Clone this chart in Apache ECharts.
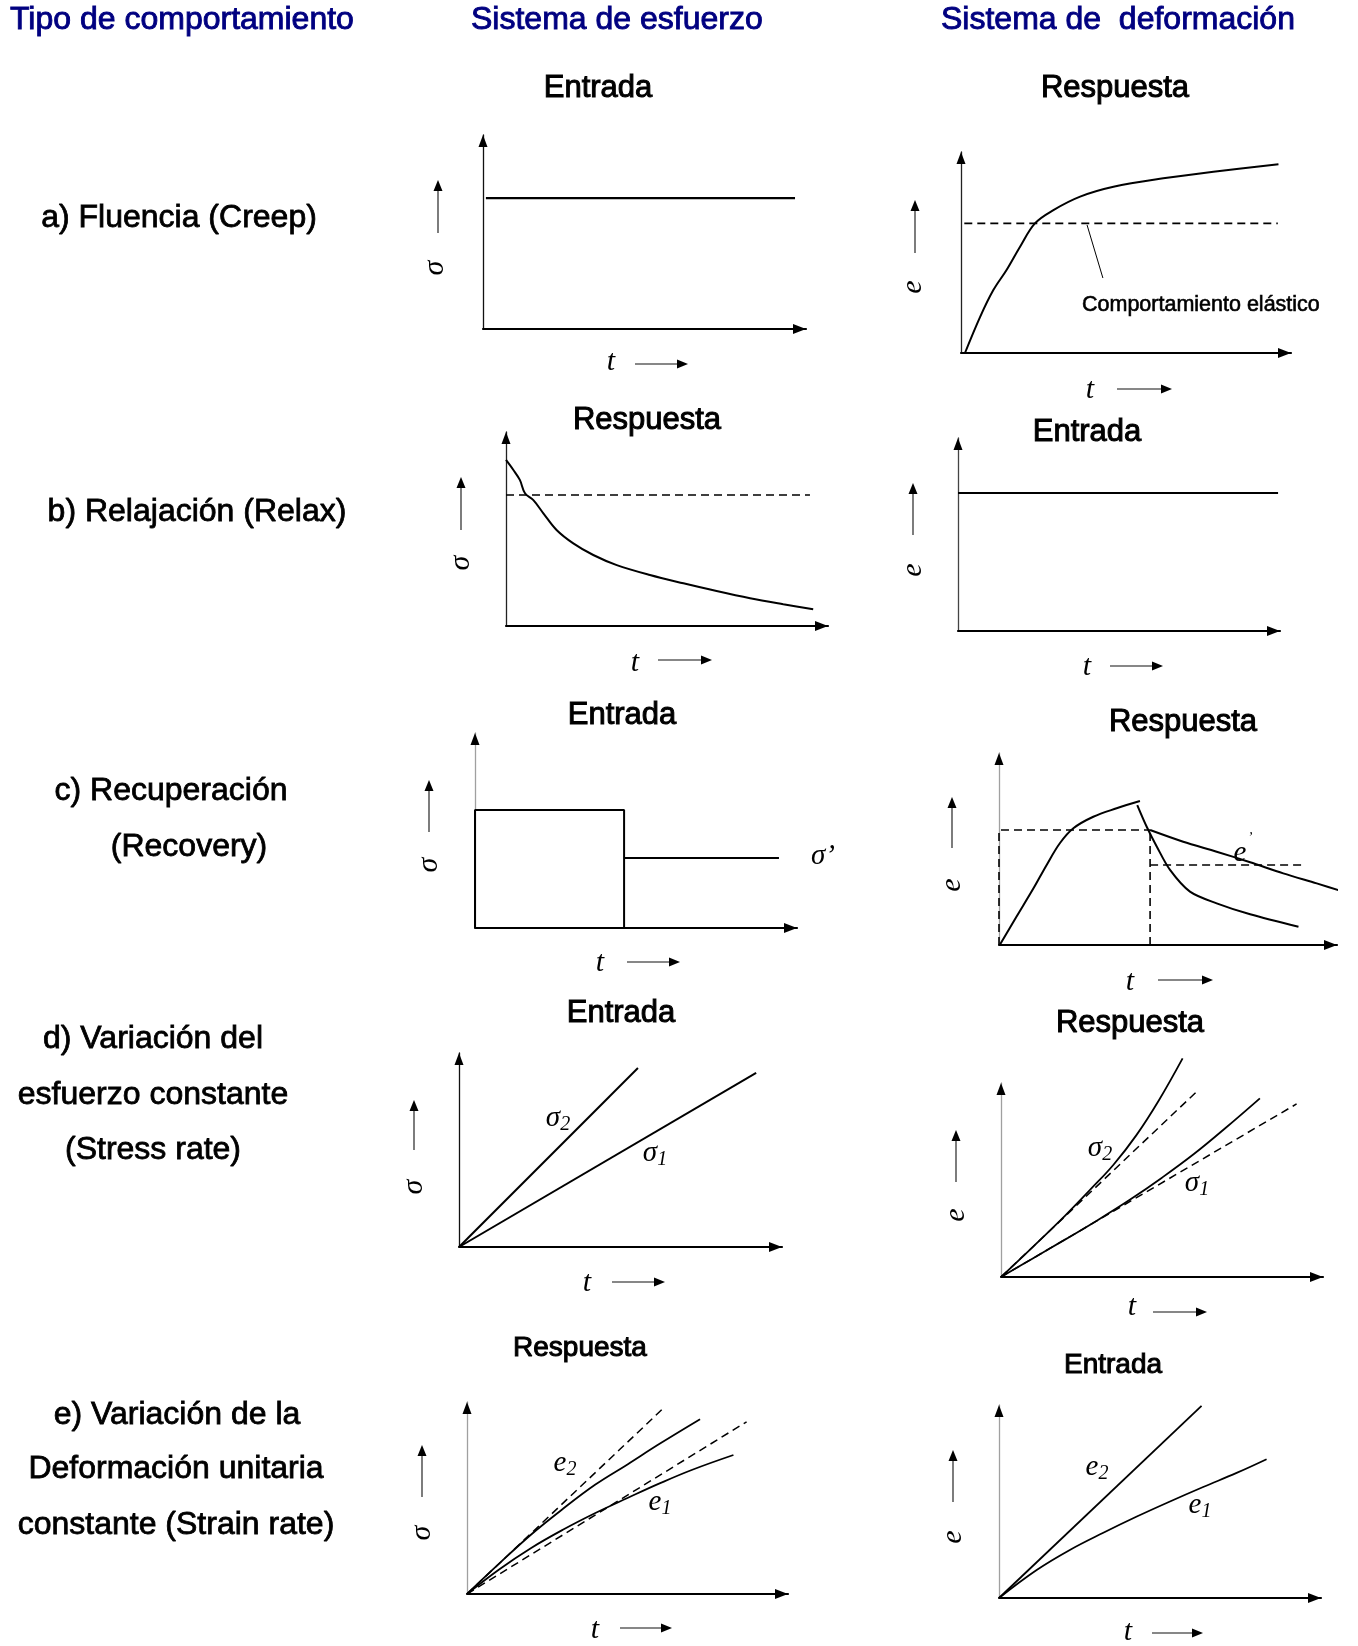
<!DOCTYPE html>
<html><head><meta charset="utf-8">
<script src="https://cdn.jsdelivr.net/npm/echarts@6/dist/echarts.min.js"></script>
<style>html,body{margin:0;padding:0;background:#fff}#c{width:1358px;height:1646px}</style>
</head><body><div id="c"></div>
<script>
// ---------- DATA (normalized: t 0..100 along x axis, value 0..100 along y axis) ----------
const columnHeaders = ['Tipo de comportamiento', 'Sistema de esfuerzo', 'Sistema de  deformación'];
const rowLabels = [
  ['a) Fluencia (Creep)'],
  ['b) Relajación (Relax)'],
  ['c) Recuperación', '(Recovery)'],
  ['d) Variación del', 'esfuerzo constante', '(Stress rate)'],
  ['e) Variación de la', 'Deformación unitaria', 'constante (Strain rate)']
];
const panelTitles = ['Entrada', 'Respuesta', 'Respuesta', 'Entrada', 'Entrada', 'Respuesta', 'Entrada', 'Respuesta', 'Respuesta', 'Entrada'];
const elasticLabel = 'Comportamiento elástico';

// a) creep
const creepInput = [[0.9, 67.5], [96.6, 67.5]];
const creepResponse = [[1.2, 0], [5.8, 18], [9.8, 31.3], [13.8, 41.3], [17.9, 52.9], [22.4, 64.5], [28, 71.1], [36.1, 77.8], [46.2, 82.7], [61.3, 86.9], [76.5, 90.2], [96.2, 93.9]];
const creepElastic = [[1, 64.5], [96, 64.5]];
const creepLeader = [[38.2, 63.7], [43, 37.3]];
// b) relaxation
const relaxResponse = [[0, 85.6], [2.3, 80.4], [4.3, 75.3], [5.9, 68.4], [8.5, 64.9], [11.6, 58.1], [15.7, 49.5], [20.9, 42.6], [27.1, 36.6], [34.4, 31.4], [44.7, 26.3], [55.1, 22], [65.4, 18], [75.8, 14.3], [86.1, 11.2], [95.4, 8.6]];
const relaxElastic = [[0, 67.5], [94.4, 67.5]];
const relaxInput = [[0, 71.5], [99.4, 71.5]];
// c) recovery
const recoveryInput = [[0, 0], [0, 60.5], [46.3, 60.5], [46.3, 0]];
const recoveryInputTail = [[46.3, 35.9], [94.4, 35.9]];
const recoveryRise = [[0.3, 0.3], [5.2, 14.8], [10.2, 29.5], [14.1, 41.7], [18, 53], [22, 60.8], [27.9, 66.8], [34.8, 71.2], [41.7, 75]];
const recoveryDrop = [[40.9, 72.9], [43.7, 61.6], [46.7, 51.2], [50.6, 39.1], [56.5, 27.8], [64.4, 21.7], [74.3, 16], [88.6, 9.5]];
const recoverySlow = [[44.7, 59.9], [54.5, 53.8], [64.4, 48.6], [74.3, 43.1], [84.1, 37.3], [94, 32.1], [101.9, 27.8]];
const recoveryGuideA = [[0, 0], [0, 59.9], [44.7, 59.9]];
const recoveryGuideB = [[44.7, 0], [44.7, 59.9]];
const recoveryGuideC = [[44.7, 41.7], [90.5, 41.7]];
// d) stress rate
const rateSigma2 = [[0, 0], [55.4, 92.3]];
const rateSigma1 = [[0, 0], [92, 89.7]];
const rateResp2 = [[0, 0], [10, 15.7], [20, 31.8], [28, 45.5], [35, 58], [42, 73], [49, 91], [56.4, 112.7]];
const rateResp2Lin = [[0, 0], [61.3, 96.4]];
const rateResp1 = [[0, 0], [10, 9.7], [20, 19.4], [30, 29.3], [40, 39.8], [50, 51.2], [60, 63.5], [70, 77.2], [80.4, 92.1]];
const rateResp1Lin = [[0, 0], [91.8, 89.2]];
// e) strain rate
const strainResp2 = [[0, 0], [10, 15.8], [20, 31], [30, 44.5], [40, 57], [50, 67.5], [60, 78.2], [72.6, 91]];
const strainResp2Lin = [[0, 0], [61.7, 97.6]];
const strainResp1 = [[0, 0], [10, 12.8], [20, 24], [30, 33.6], [40, 42.2], [50, 50], [60, 57.6], [70, 64.6], [83, 72.4]];
const strainResp1Lin = [[0, 0], [87.1, 89.7]];
const strainIn2 = [[0, 0], [62.9, 99.5]];
const strainIn1 = [[0, 0], [11.7, 14.5], [22, 24.9], [32.4, 33.8], [42.8, 42.2], [53.1, 50], [63.4, 57.5], [73.8, 64.8], [83.1, 71.9]];

// ---------- LAYOUT ----------
const SANS = '"Liberation Sans", Arial, Helvetica, sans-serif';
const SERIF = '"Liberation Serif", "Times New Roman", serif';
const panels = [
  {x0: 483, y0: 329, w: 323, h: 194, yc: '#111', yl: 'σ', ylab: [435, 268], yar: [438, 233, 180], tl: [611, 362], tar: [635, 688, 364], title: [598, 88], ts: 31},
  {x0: 961, y0: 353, w: 330, h: 201, yc: '#222', yl: 'e', ylab: [913, 287], yar: [915, 253, 200], tl: [1090, 390], tar: [1117, 1172, 389], title: [1115, 88], ts: 31},
  {x0: 506, y0: 626, w: 322, h: 194, yc: '#222', yl: 'σ', ylab: [461, 563], yar: [461, 530, 477], tl: [635, 663], tar: [658, 712, 660], title: [647, 420], ts: 31},
  {x0: 958, y0: 631, w: 322, h: 193, yc: '#444', yl: 'e', ylab: [913, 570], yar: [913, 535, 483], tl: [1087, 667], tar: [1110, 1163, 666], title: [1087, 432], ts: 31},
  {x0: 475, y0: 928, w: 322, h: 195, yc: '#a0a0a0', yl: 'σ', ylab: [429, 865], yar: [429, 832, 780], tl: [600, 963], tar: [627, 680, 962], title: [622, 715], ts: 31},
  {x0: 999, y0: 945, w: 338, h: 192, yc: '#a0a0a0', yl: 'e', ylab: [952, 885], yar: [952, 848, 797], tl: [1130, 982], tar: [1158, 1213, 980], title: [1183, 722], ts: 31},
  {x0: 459, y0: 1247, w: 323, h: 194, yc: '#111', yl: 'σ', ylab: [414, 1187], yar: [414, 1150, 1100], tl: [587, 1283], tar: [612, 665, 1282], title: [621, 1013], ts: 31},
  {x0: 1001, y0: 1277, w: 322, h: 194, yc: '#a0a0a0', yl: 'e', ylab: [956, 1215], yar: [956, 1182, 1130], tl: [1132, 1307], tar: [1153, 1207, 1312], title: [1130, 1023], ts: 31},
  {x0: 467, y0: 1594, w: 321, h: 192, yc: '#a0a0a0', yl: 'σ', ylab: [422, 1533], yar: [422, 1497, 1445], tl: [595, 1630], tar: [620, 672, 1628], title: [580, 1348], ts: 28},
  {x0: 999, y0: 1598, w: 322, h: 193, yc: '#a0a0a0', yl: 'e', ylab: [953, 1537], yar: [953, 1502, 1450], tl: [1128, 1632], tar: [1152, 1203, 1633], title: [1113, 1365], ts: 28}
];

const grids = [], xAxes = [], yAxes = [];
const graphics = [];
panels.forEach((p, i) => {
  grids.push({left: p.x0, top: p.y0 - p.h, width: p.w, height: p.h, containLabel: false});
  xAxes.push({type: 'value', gridIndex: i, min: 0, max: 100,
    axisLine: {show: true, onZero: false, symbol: ['none', 'triangle'], symbolSize: [10, 13], symbolOffset: [0, -6.5], lineStyle: {color: '#000', width: 2.2}},
    axisTick: {show: false}, axisLabel: {show: false}, splitLine: {show: false}});
  yAxes.push({type: 'value', gridIndex: i, min: 0, max: 100,
    axisLine: {show: true, onZero: false, symbol: 'none', lineStyle: {color: p.yc, width: 1.3}},
    axisTick: {show: false}, axisLabel: {show: false}, splitLine: {show: false}});
  // black arrow head on top of the y axis
  const tx = p.x0, ty = p.y0 - p.h;
  graphics.push({type: 'polygon', silent: true, z: 60, shape: {points: [[tx, ty], [tx - 4.5, ty + 12], [tx + 4.5, ty + 12]]}, style: {fill: '#000'}});
});

const series = [];
function addLine(panel, data, opts) {
  opts = opts || {};
  series.push({type: 'line', xAxisIndex: panel, yAxisIndex: panel, data: data, symbol: 'none', clip: false,
    smooth: opts.smooth || false, animation: false, silent: true,
    lineStyle: {color: '#000', width: opts.width || 2, type: opts.dashed ? [8, 5] : 'solid'}});
}
addLine(0, creepInput, {width: 2.2});
addLine(1, creepResponse, {smooth: 0.35, width: 2});
addLine(1, creepElastic, {dashed: true, width: 1.6});
addLine(1, creepLeader, {width: 1});
addLine(2, relaxResponse, {smooth: 0.35, width: 2});
addLine(2, relaxElastic, {dashed: true, width: 1.6});
addLine(3, relaxInput, {width: 2.2});
addLine(4, recoveryInput, {width: 2});
addLine(4, recoveryInputTail, {width: 2});
addLine(5, recoveryRise, {smooth: 0.35});
addLine(5, recoveryDrop, {smooth: 0.3});
addLine(5, recoverySlow, {smooth: 0.3});
addLine(5, recoveryGuideA, {dashed: true, width: 1.6});
addLine(5, recoveryGuideB, {dashed: true, width: 1.6});
addLine(5, recoveryGuideC, {dashed: true, width: 1.6});
addLine(6, rateSigma2);
addLine(6, rateSigma1);
addLine(7, rateResp2, {smooth: 0.4, width: 1.8});
addLine(7, rateResp2Lin, {dashed: true, width: 1.5});
addLine(7, rateResp1, {smooth: 0.4, width: 1.8});
addLine(7, rateResp1Lin, {dashed: true, width: 1.5});
addLine(8, strainResp2, {smooth: 0.4, width: 1.8});
addLine(8, strainResp2Lin, {dashed: true, width: 1.5});
addLine(8, strainResp1, {smooth: 0.4, width: 1.8});
addLine(8, strainResp1Lin, {dashed: true, width: 1.5});
addLine(9, strainIn2, {width: 1.8});
addLine(9, strainIn1, {smooth: 0.4, width: 1.8});

// ---------- TEXT & DECORATION ----------
function txt(x, y, text, o) {
  o = o || {};
  const st = {text: text, fill: o.fill || '#000', fontFamily: o.family || SANS, fontSize: o.size || 31,
    fontStyle: o.italic ? 'italic' : 'normal', fontWeight: o.weight || 'normal',
    align: o.align || 'center', verticalAlign: 'middle'};
  if (o.heavy) { st.stroke = o.fill || '#000'; st.lineWidth = o.heavy; }
  if (o.rich) st.rich = o.rich;
  graphics.push({type: 'text', x: x, y: y, rotation: o.rotation || 0, silent: true, z: 50, style: st});
}
function arrow(x1, y1, x2, y2) {
  const dx = x2 - x1, dy = y2 - y1, L = Math.hypot(dx, dy), ux = dx / L, uy = dy / L, hl = 11, hw = 4.5;
  const bx = x2 - ux * hl, by = y2 - uy * hl;
  graphics.push({type: 'line', silent: true, z: 50, shape: {x1: x1, y1: y1, x2: bx, y2: by}, style: {stroke: '#111', lineWidth: 1.1}});
  graphics.push({type: 'polygon', silent: true, z: 50, shape: {points: [[x2, y2], [bx - uy * hw, by + ux * hw], [bx + uy * hw, by - ux * hw]]}, style: {fill: '#000'}});
}

// column headers
const headerPos = [[10, 20], [471, 20], [941, 20]];
columnHeaders.forEach((h, i) => txt(headerPos[i][0], headerPos[i][1], h, {align: 'left', size: 32, fill: '#000080', heavy: 0.9}));
// row labels
const rowPos = [
  [[179, 218]], [[197, 512]], [[171, 791], [189, 847]],
  [[153, 1039], [153, 1095], [153, 1150]],
  [[177, 1415], [176, 1469], [176, 1525]]
];
rowLabels.forEach((lines, r) => lines.forEach((l, k) => txt(rowPos[r][k][0], rowPos[r][k][1], l, {size: 32, heavy: 0.8})));
// panel titles, axis labels and side arrows
panels.forEach((p, i) => {
  txt(p.title[0], p.title[1], panelTitles[i], {size: p.ts, heavy: 1.0});
  txt(p.ylab[0], p.ylab[1], p.yl, {family: SERIF, italic: true, size: 30, rotation: Math.PI / 2});
  arrow(p.yar[0], p.yar[1], p.yar[0], p.yar[2]);
  txt(p.tl[0], p.tl[1], 't', {family: SERIF, italic: true, size: 30});
  arrow(p.tar[0], p.tar[2], p.tar[1], p.tar[2]);
});
txt(1082, 305, elasticLabel, {align: 'left', size: 21.5, heavy: 0.6});
// curve labels
const sub = {a: {fontFamily: SERIF, fontStyle: 'italic', fontSize: 29}, s: {fontFamily: SERIF, fontStyle: 'italic', fontSize: 20, padding: [14, 0, 0, 0]}};
txt(823, 856, 'σ’', {family: SERIF, italic: true, size: 29});
txt(1240, 853, 'e', {family: SERIF, italic: true, size: 29});
txt(1250, 838, '’', {family: SERIF, italic: true, size: 14});
txt(558, 1118, '{a|σ}{s|2}', {rich: sub});
txt(655, 1153, '{a|σ}{s|1}', {rich: sub});
txt(1100, 1148, '{a|σ}{s|2}', {rich: sub});
txt(1197, 1183, '{a|σ}{s|1}', {rich: sub});
txt(565, 1463, '{a|e}{s|2}', {rich: sub});
txt(660, 1502, '{a|e}{s|1}', {rich: sub});
txt(1097, 1467, '{a|e}{s|2}', {rich: sub});
txt(1200, 1505, '{a|e}{s|1}', {rich: sub});

const chart = echarts.init(document.getElementById('c'), null, {renderer: 'canvas'});
chart.setOption({
  backgroundColor: '#fff',
  animation: false,
  grid: grids, xAxis: xAxes, yAxis: yAxes, series: series,
  graphic: {elements: graphics}
});
</script>
</body></html>
